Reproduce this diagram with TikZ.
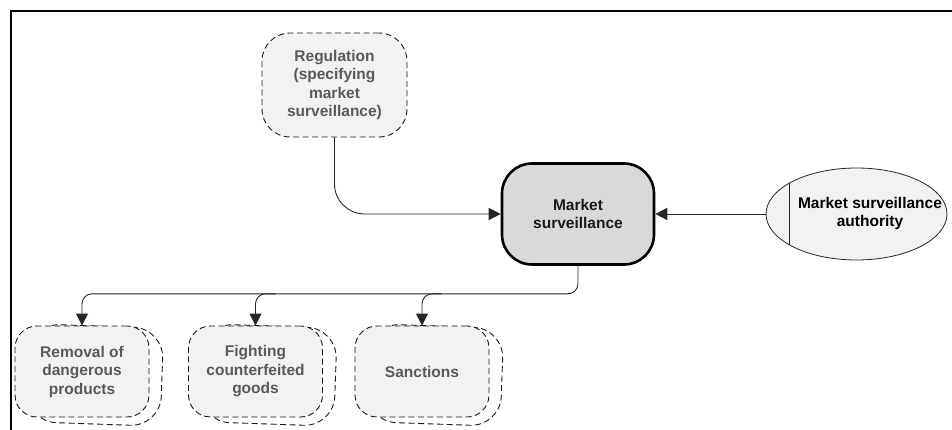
\documentclass[tikz,border=0pt]{standalone}
\usepackage{fontspec}
\setmainfont{Liberation Sans}
\usetikzlibrary{arrows.meta,calc,shapes.geometric}
\definecolor{paleFill}{HTML}{F2F2F2}
\definecolor{coreFill}{HTML}{D9D9D9}
\definecolor{softText}{HTML}{595959}
\tikzset{
  every node/.style={font=\bfseries\fontsize{15.5}{18.5}\selectfont, align=center},
  conn/.style={draw=black!85, line width=0.9pt, -{Triangle[length=12pt,width=12pt]}},
  dashbox/.style={draw=black!90, line width=0.9pt, dash pattern=on 6pt off 3.5pt,
    fill=paleFill, text=softText, rectangle, rounded corners=28pt, inner sep=0pt},
  corebox/.style={draw=black, line width=2.6pt, fill=coreFill, text=black!90,
    rectangle, rounded corners=30pt, minimum width=152pt, minimum height=101pt, inner sep=0pt},
  actor/.style={draw=black!85, line width=0.8pt, fill=paleFill, ellipse,
    minimum width=181pt, minimum height=92pt, inner sep=0pt},
  outcome/.style={dashbox, rounded corners=22pt, minimum width=134pt, minimum height=91pt},
  outcomeback/.style={outcome, fill=white, minimum height=98pt, rotate=-2, rounded corners=30pt},
}
\begin{document}
\begin{tikzpicture}[x=1pt,y=-1pt]
\useasboundingbox (0,0) rectangle (952,430);

% frame
\draw[line width=2pt] (11,431) -- (11,11) -- (953,11);

% regulation and the central activity
\node[dashbox, minimum width=145pt, minimum height=104pt] (reg) at (334.5,85)
  {Regulation\\(specifying\\market\\surveillance)};
\node[corebox] (ms) at (578,214) {Market\\surveillance};

% authority (ellipse with a side bar)
\node[actor] (auth) at (856.5,214) {};
\draw[draw=black!85, line width=0.8pt] ($(auth.center)+(-67.5,-30.6)$) -- ($(auth.center)+(-67.5,30.6)$);
\node[text=black] (authlabel) at (870,213.5) {Market surveillance\\authority};

% outcomes: a shadow copy behind each front box
\node[outcomeback] (remb) at (95,375) {};
\node[outcomeback] (figb) at (268.5,375) {};
\node[outcomeback] (sanb) at (435,375) {};
\node[outcome] (rem) at (82,371.5) {Removal of\\dangerous\\products};
\node[outcome] (fig) at (255.5,371.5) {Fighting\\counterfeited\\goods};
\node[outcome] (san) at (422,371.5) {Sanctions};

% connectors
\draw[conn, rounded corners=30pt] (reg.south) |- (ms.west);
\draw[conn] (auth.west) -- (ms.east);
\coordinate (bus) at ($(ms.south)+(0,28)$);
\draw[conn, rounded corners=10pt] (ms.south) -- (bus) -| (rem.north);
\draw[conn, rounded corners=10pt] ($(bus -| fig.north)+(20,0)$) -| (fig.north);
\draw[conn, rounded corners=10pt] ($(bus -| san.north)+(20,0)$) -| (san.north);
\end{tikzpicture}
\end{document}
